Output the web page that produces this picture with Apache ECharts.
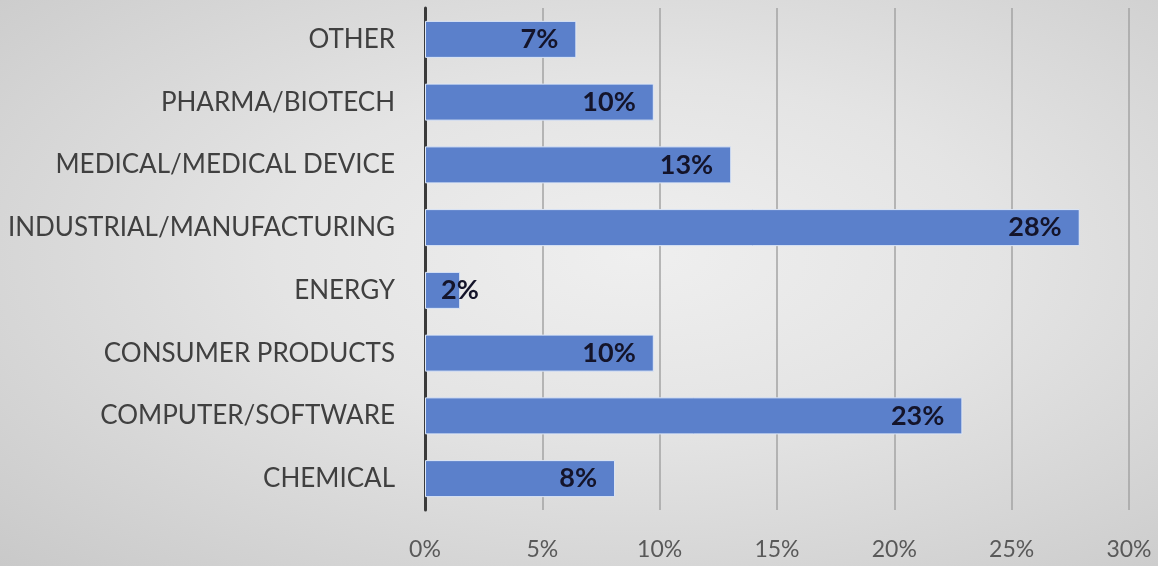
<!DOCTYPE html>
<html>
<head>
<meta charset="utf-8">
<script src="https://cdn.jsdelivr.net/npm/echarts@6/dist/echarts.min.js"></script>
<style>
html,body{margin:0;padding:0;}
#c{width:1158px;height:566px;background:radial-gradient(ellipse at 55% 45%, #efefef 0%, #e4e4e4 40%, #c9c9c9 100%);}
</style>
</head>
<body>
<div id="c"></div>
<script>
const categories = ["CHEMICAL","COMPUTER/SOFTWARE","CONSUMER PRODUCTS","ENERGY","INDUSTRIAL/MANUFACTURING","MEDICAL/MEDICAL DEVICE","PHARMA/BIOTECH","OTHER"];
const values = [8.1, 22.9, 9.75, 1.5, 27.9, 13.05, 9.75, 6.45];
const labels = ["8%","23%","10%","2%","28%","13%","10%","7%"];
const xTicks = [0,5,10,15,20,25,30];

const chart = echarts.init(document.getElementById('c'), null, {renderer:'canvas'});
const data = values.map((v,i)=>({
  value: v,
  label: v < 3 ? {position:'insideLeft', distance: 16} : {}
}));
chart.setOption({
  backgroundColor: 'transparent',
  animation: false,
  grid: {left: 425, right: 29, top: 8, bottom: 56, containLabel: false},
  xAxis: {
    type: 'value', min: xTicks[0], max: xTicks[xTicks.length-1], interval: xTicks[1]-xTicks[0],
    axisLine: {show: false}, axisTick: {show: false},
    splitLine: {show: true, lineStyle: {color: '#a3a3a3', width: 1.5}},
    axisLabel: {formatter: v => v + '%', fontFamily: 'Lato', fontSize: 23, color: '#595959', margin: 28}
  },
  yAxis: {
    type: 'category', data: categories,
    axisLine: {show: true, lineStyle: {color: '#3a3a3a', width: 3}},
    axisTick: {show: false},
    axisLabel: {fontFamily: 'Lato', fontSize: 26, color: '#404040', margin: 30}
  },
  series: [{
    type: 'bar',
    data: data,
    barWidth: '59%',
    itemStyle: {color: '#5b80cb', borderColor: '#dfe8f7', borderWidth: 1},
    label: {
      show: true, position: 'insideRight', distance: 18,
      formatter: p => labels[p.dataIndex],
      fontFamily: 'Lato', fontWeight: 'bold', fontSize: 27, color: '#14142a'
    }
  }]
});
</script>
</body>
</html>
